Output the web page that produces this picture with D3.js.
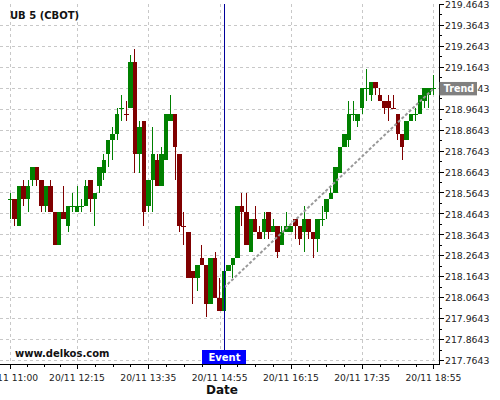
<!DOCTYPE html>
<html><head><meta charset="utf-8">
<script src="https://cdn.jsdelivr.net/npm/d3@7"></script>
<style>body{margin:0;background:#fff}svg{display:block}</style>
</head><body><svg id="c" width="500" height="400"></svg>
<script>
const title = "UB 5 (CBOT)";
const watermark = "www.delkos.com";
const xTitle = "Date";
const firstBar = "20/11 11:00:00";
const barMinutes = 5;
const opens = [218.53125,218.53125,218.40625,218.59375,218.53125,218.625,218.6875,218.625,218.5,218.59375,
 218.46875,218.3125,218.46875,218.40625,218.5,218.46875,218.5,218.5,218.625,218.53125,
 218.59375,218.65625,218.75,218.8125,218.84375,218.96875,218.9375,218.96875,219.1875,218.75,
 218.90625,218.5,218.625,218.71875,218.59375,218.71875,218.90625,218.9375,218.75,218.40625,
 218.375,218.1875,218.15625,218.25,218.21875,218.03125,218.25,218.0625,218,218.1875,
 218.21875,218.25,218.5,218.46875,218.28125,218.4375,218.375,218.375,218.46875,218.375,
 218.40625,218.3125,218.375,218.375,218.4375,218.40625,218.375,218.4375,218.375,218.34375,
 218.4375,218.46875,218.53125,218.5625,218.65625,218.78125,218.8125,218.9375,218.90625,218.96875,
 219.0625,219.03125,219.09375,219.03125,219,219,218.96875,218.9375,218.84375,218.8125,
 218.90625,218.9375,218.9375,219,219.03125,219.0625];
const highs = [218.5625,218.53125,218.59375,218.625,218.625,218.6875,218.6875,218.625,218.59375,218.625,
 218.46875,218.46875,218.59375,218.5,218.5625,218.59375,218.53125,218.625,218.625,218.5625,
 218.6875,218.75,218.8125,218.875,218.96875,219.03125,219,219.21875,219.25,218.90625,
 218.90625,218.625,218.875,218.75,218.78125,218.9375,219.03125,218.9375,218.75,218.46875,
 218.375,218.1875,218.21875,218.3125,218.21875,218.25,218.28125,218.15625,218.1875,218.21875,
 218.25,218.5,218.5625,218.5625,218.4375,218.5,218.40625,218.46875,218.46875,218.4375,
 218.40625,218.40625,218.46875,218.40625,218.4375,218.40625,218.5,218.4375,218.375,218.4375,
 218.5,218.53125,218.59375,218.6875,218.78125,218.84375,219,219,218.9375,219.0625,
 219.15625,219.09375,219.09375,219.0625,219,219.03125,219.03125,218.9375,218.84375,218.90625,
 218.9375,218.96875,219.03125,219.0625,219.0625,219.125];
const lows = [218.4375,218.40625,218.40625,218.5,218.46875,218.59375,218.59375,218.46875,218.46875,218.46875,
 218.3125,218.3125,218.4375,218.375,218.46875,218.46875,218.46875,218.5,218.46875,218.40625,
 218.5625,218.625,218.6875,218.71875,218.8125,218.90625,218.90625,218.96875,218.65625,218.65625,
 218.40625,218.46875,218.46875,218.59375,218.59375,218.71875,218.90625,218.625,218.375,218.3125,
 218.15625,218.03125,218.09375,218.21875,217.96875,218.03125,218.0625,218,218,218.1875,
 218.15625,218.25,218.40625,218.3125,218.28125,218.375,218.34375,218.34375,218.34375,218.375,
 218.25,218.3125,218.375,218.375,218.34375,218.3125,218.28125,218.34375,218.25,218.28125,
 218.40625,218.4375,218.53125,218.5625,218.65625,218.78125,218.78125,218.90625,218.875,218.9375,
 219,219,219.03125,219,218.9375,218.90625,218.96875,218.8125,218.71875,218.8125,
 218.90625,218.90625,218.9375,218.96875,218.96875,219.03125];
const closes = [218.53125,218.4375,218.59375,218.53125,218.59375,218.6875,218.625,218.5,218.59375,218.46875,
 218.3125,218.46875,218.4375,218.5,218.5,218.5,218.5,218.59375,218.53125,218.5625,
 218.6875,218.71875,218.8125,218.84375,218.9375,218.96875,218.9375,219.1875,218.75,218.875,
 218.46875,218.625,218.75,218.59375,218.75,218.9375,218.9375,218.78125,218.40625,218.40625,
 218.15625,218.15625,218.21875,218.21875,218.03125,218.25,218.0625,218,218.1875,218.21875,
 218.25,218.5,218.46875,218.3125,218.4375,218.375,218.34375,218.4375,218.375,218.40625,
 218.28125,218.375,218.40625,218.40625,218.40625,218.34375,218.4375,218.375,218.34375,218.4375,
 218.4375,218.53125,218.5625,218.6875,218.78125,218.84375,218.9375,218.9375,218.9375,219.0625,
 219.0625,219.09375,219.0625,219,218.96875,218.96875,218.96875,218.84375,218.78125,218.90625,
 218.9375,218.9375,219.03125,219.0625,219.0625,219.0625];
const yTickLabels = ["217.7643","217.8643","217.9643","218.0643","218.1643","218.2643","218.3643","218.4643","218.5643",
 "218.6643","218.7643","218.8643","218.9643","219.0643","219.1643","219.2643","219.3643","219.4643"];
const xTickLabels = ["20/11 11:00","20/11 12:15","20/11 13:35","20/11 14:55","20/11 16:15","20/11 17:35","20/11 18:55"];
const eventLabel = "Event";
const eventTime = "20/11 15:00";
const trendLabel = "Trend";
const trendTimes = ["20/11 15:00","20/11 18:55"];
const trendValues = [218.11, 219.06];

const parseS = d3.timeParse("%d/%m %H:%M:%S");
const parseM = d3.timeParse("%d/%m %H:%M");
const L = 0, R = 439, T = 4, B = 364;
const svg = d3.select("#c");
const font = "DejaVu Sans";

const x = d3.scaleTime().domain([parseS("20/11 10:48:33"), parseS("20/11 19:01:17")]).range([L, R]);
const y = d3.scaleLinear().domain([217.7452, 219.4834]).range([B, 0]);

const t0 = parseS(firstBar);
const bars = opens.map((o, i) => ({
  t: d3.timeMinute.offset(t0, i * barMinutes), o, h: highs[i], l: lows[i], c: closes[i]
}));
// colour: up/down vs open; dojis follow change vs previous close, ties keep previous colour
let prevUp = true;
bars.forEach((b, i) => {
  if (b.c > b.o) b.up = true;
  else if (b.c < b.o) b.up = false;
  else if (i > 0 && b.c > bars[i-1].c) b.up = true;
  else if (i > 0 && b.c < bars[i-1].c) b.up = false;
  else b.up = prevUp;
  prevUp = b.up;
});

// grid
const grid = svg.append("g").attr("stroke", "#c8c8c8").attr("stroke-dasharray", "3,3").attr("stroke-width", 1);
yTickLabels.forEach(s => {
  const yy = Math.round(y(+s)) + 0.5;
  if (yy > T + 2) grid.append("line").attr("x1", L).attr("x2", R).attr("y1", yy).attr("y2", yy);
});
const xTicks = xTickLabels.map(s => parseM(s));
xTicks.forEach(t => {
  const xx = Math.round(x(t)) + 0.5;
  grid.append("line").attr("x1", xx).attr("x2", xx).attr("y1", T).attr("y2", B);
});

// candles
const green = "#008000", red = "#800000";
const cg = svg.append("g").attr("shape-rendering", "crispEdges");
bars.forEach(b => {
  const cx = x(b.t);
  const col = b.up ? green : red;
  const wx = Math.floor(cx) + 0.5;
  cg.append("line").attr("x1", wx).attr("x2", wx).attr("y1", y(b.h)).attr("y2", y(b.l))
    .attr("stroke", col).attr("stroke-width", 1);
  const y1 = y(Math.max(b.o, b.c)), y2 = y(Math.min(b.o, b.c));
  if (y2 - y1 < 1) {
    cg.append("line").attr("x1", cx - 2.5).attr("x2", cx + 2.5).attr("y1", Math.round(y1) + 0.5).attr("y2", Math.round(y1) + 0.5)
      .attr("stroke", col).attr("stroke-width", 1);
  } else {
    cg.append("rect").attr("x", cx - 2.2).attr("width", 4.45).attr("y", y1).attr("height", y2 - y1).attr("fill", col);
  }
});

// trend line
svg.append("line")
  .attr("x1", x(parseM(trendTimes[0]))).attr("y1", y(trendValues[0]))
  .attr("x2", x(parseM(trendTimes[1]))).attr("y2", y(trendValues[1]))
  .attr("stroke", "#999999").attr("stroke-width", 2).attr("stroke-dasharray", "3,2");

// event line
const ex = Math.floor(x(parseM(eventTime))) + 0.5;
svg.append("line").attr("x1", ex).attr("x2", ex).attr("y1", T).attr("y2", B)
  .attr("stroke", "#00009a").attr("stroke-width", 1);

// axes
const ax = svg.append("g").attr("shape-rendering", "crispEdges").attr("stroke", "#000");
ax.append("line").attr("x1", L).attr("x2", R + 0.5).attr("y1", B + 0.5).attr("y2", B + 0.5).attr("stroke-width", 1.5);
ax.append("line").attr("x1", R + 0.5).attr("x2", R + 0.5).attr("y1", T).attr("y2", B + 0.5).attr("stroke-width", 1.5);
// y ticks
yTickLabels.forEach((s, i) => {
  const yy = Math.round(y(+s)) + 0.5;
  ax.append("line").attr("x1", R).attr("x2", R + 5).attr("y1", yy).attr("y2", yy);
  if (i < yTickLabels.length - 1) {
    const ym = Math.round(y((+s + +yTickLabels[i+1]) / 2)) + 0.5;
    ax.append("line").attr("x1", R).attr("x2", R + 3).attr("y1", ym).attr("y2", ym);
  }
  svg.append("text").attr("x", R + 6).attr("y", y(+s) + 0.8).attr("dy", "0.36em")
    .attr("font-family", font).attr("font-size", "9.3px").attr("fill", "#222").text(s);
});
// x ticks
xTicks.forEach((t, i) => {
  const xx = Math.round(x(t)) + 0.5;
  ax.append("line").attr("x1", xx).attr("x2", xx).attr("y1", B).attr("y2", B + 5);
  if (i < xTicks.length - 1) {
    const a = +t, bb = +xTicks[i+1];
    for (let k = 1; k < 4; k++) {
      const xm = Math.round(x(new Date(a + (bb - a) * k / 4))) + 0.5;
      ax.append("line").attr("x1", xm).attr("x2", xm).attr("y1", B).attr("y2", B + 3);
    }
  }
  svg.append("text").attr("x", x(t)).attr("y", 380.5).attr("text-anchor", "middle")
    .attr("font-family", font).attr("font-size", "9.2px").attr("fill", "#222").text(xTickLabels[i]);
});

// titles
svg.append("text").attr("x", 10).attr("y", 19.3).attr("font-family", font).attr("font-weight", "bold")
  .attr("font-size", "10px").attr("fill", "#111").text(title);
svg.append("text").attr("x", 15).attr("y", 357).attr("font-family", font).attr("font-weight", "bold")
  .attr("font-size", "10px").attr("fill", "#111").text(watermark);
svg.append("text").attr("x", 222).attr("y", 393.5).attr("text-anchor", "middle").attr("font-family", font)
  .attr("font-weight", "bold").attr("font-size", "12px").attr("fill", "#111").text(xTitle);

// event label
svg.append("rect").attr("x", ex - 22.5).attr("y", 350).attr("width", 44).attr("height", 14).attr("fill", "#0000ff");
svg.append("text").attr("x", ex).attr("y", 361.3).attr("text-anchor", "middle").attr("font-family", font)
  .attr("font-weight", "bold").attr("font-size", "10px").attr("fill", "#fff").text(eventLabel);

// trend label
const ty = y(trendValues[1]);
svg.append("rect").attr("x", R + 0.5).attr("y", ty - 6.7).attr("width", 37.5).attr("height", 13.4).attr("fill", "#808080");
svg.append("text").attr("x", R + 20).attr("y", ty + 3.6).attr("text-anchor", "middle").attr("font-family", font)
  .attr("font-weight", "bold").attr("font-size", "9.6px").attr("fill", "#fff").text(trendLabel);
</script></body></html>
